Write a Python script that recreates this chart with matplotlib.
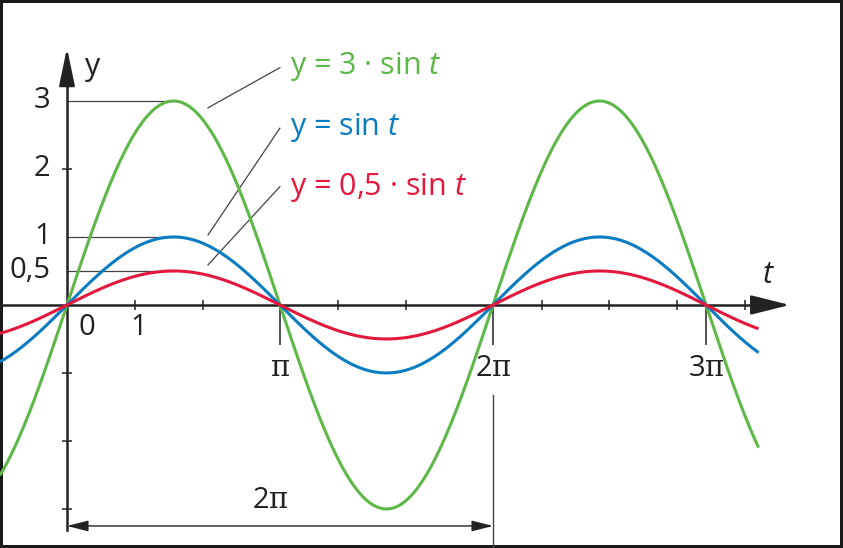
import numpy as np
import matplotlib
matplotlib.use("Agg")
import matplotlib.pyplot as plt

plt.rcParams["font.family"] = ["Open Sans", "DejaVu Sans"]
plt.rcParams["mathtext.fontset"] = "custom"
plt.rcParams["mathtext.it"] = "Open Sans:italic"
plt.rcParams["mathtext.rm"] = "Open Sans"
plt.rcParams["mathtext.cal"] = "DejaVu Serif"

# curves: y = a * sin t
amplitudes = [3, 1, 0.5]
curve_colors = ["#5DB847", "#0A7CC1", "#E4183C"]
curve_labels = [r"y = 3 · sin $t$", r"y = sin $t$", r"y = 0,5 · sin $t$"]
label_baselines = [3.40, 2.50, 1.62]
t_range = (-0.99, 10.2)

y_tick_values = [3, 2, 1, 0.5]
y_tick_labels = ["3", "2", "1", "0,5"]
x_minor_ticks = [1, 2, 4, 5, 7, 8, 9, 10]
x_pi_ticks = [np.pi, 2 * np.pi, 3 * np.pi]
x_pi_labels = [r"$\mathcal{\pi}$", r"2$\mathcal{\pi}$", r"3$\mathcal{\pi}$"]
y_neg_ticks = [-1, -2, -3]

AX = "#222222"
GRAY = "#444444"
FS = 21

fig = plt.figure(figsize=(8.43, 5.48), dpi=100)
fig.patch.set_edgecolor("#1a1a1a")
fig.patch.set_linewidth(3)
ax = fig.add_axes([0, 0, 1, 1])
ax.set_xlim(-0.988, 11.445)
ax.set_ylim(-3.574, 4.485)
ax.patch.set_alpha(0)

# axes through origin
for s in ("top", "right"):
    ax.spines[s].set_visible(False)
ax.spines["left"].set_position(("data", 0))
ax.spines["bottom"].set_position(("data", 0))
ax.spines["left"].set_bounds(-3.31, 3.4)
ax.spines["bottom"].set_bounds(-0.988, 10.3)
for s in ("left", "bottom"):
    ax.spines[s].set_color(AX)
    ax.spines[s].set_linewidth(1.8)
    ax.spines[s].set_zorder(1)

ax.set_xticks(x_pi_ticks)
ax.set_xticklabels([])
ax.set_xticks(x_minor_ticks, minor=True)
ax.tick_params(axis="x", which="major", direction="out", length=29, width=1.3, color=GRAY)
ax.tick_params(axis="x", which="minor", direction="inout", length=7, width=1.1, color=AX)
ax.set_yticks([2] + y_neg_ticks)
ax.set_yticklabels([])
ax.tick_params(axis="y", which="major", direction="inout", length=7, width=1.1, color=AX)

# arrow heads
ax.annotate("", xy=(0, 3.78), xytext=(0, 3.3),
            arrowprops=dict(arrowstyle="-|>,head_length=2.3,head_width=0.48",
                            mutation_scale=10, lw=1.8, color=AX, shrinkA=0, shrinkB=0))
ax.annotate("", xy=(10.66, 0), xytext=(10.2, 0),
            arrowprops=dict(arrowstyle="-|>,head_length=2.4,head_width=0.6",
                            mutation_scale=10, lw=1.8, color=AX, shrinkA=0, shrinkB=0))

# helper lines to the maxima
for a in amplitudes:
    ax.plot([0, np.pi / 2], [a, a], color=GRAY, lw=0.9, zorder=1)

# curves
t = np.linspace(t_range[0], t_range[1], 600)
for a, c in zip(amplitudes, curve_colors):
    ax.plot(t, a * np.sin(t), color=c, lw=2.2, zorder=3, solid_capstyle="butt")

# curve labels with leader lines
leaders = [((3.14, 3.49), (2.08, 2.90)), ((3.14, 2.60), (2.08, 1.03)), ((3.14, 1.74), (2.08, 0.59))]
for lab, c, yb, (p0, p1) in zip(curve_labels, curve_colors, label_baselines, leaders):
    ax.text(3.29, yb, lab, color=c, fontsize=22, va="baseline", ha="left")
    ax.plot([p0[0], p1[0]], [p0[1], p1[1]], color=GRAY, lw=0.9, zorder=2)

# tick labels
for v, lab in zip(y_tick_values, y_tick_labels):
    ax.text(-0.24, v, lab, fontsize=FS, ha="right", va="center", color=AX)
ax.text(0.30, -0.33, "0", fontsize=FS, ha="center", va="center", color=AX)
ax.text(1.05, -0.33, "1", fontsize=FS, ha="center", va="center", color=AX)
for v, lab in zip(x_pi_ticks, x_pi_labels):
    ax.text(v, -0.93, lab, fontsize=FS, ha="center", va="center", color=AX)
ax.text(0.38, 3.5, "y", fontsize=22, ha="center", va="center", color=AX)
ax.text(10.34, 0.44, "$t$", fontsize=22, ha="center", va="center", color=AX)

# period dimension
ax.plot([2 * np.pi, 2 * np.pi], [-1.32, -3.6], color=GRAY, lw=1.0)
ax.annotate("", xy=(2 * np.pi, -3.25), xytext=(0, -3.25),
            arrowprops=dict(arrowstyle="<|-|>,head_length=1.3,head_width=0.33",
                            mutation_scale=10, lw=1.0, color=AX, shrinkA=0, shrinkB=0))
ax.text(3.0, -2.87, r"2$\mathcal{\pi}$", fontsize=FS, ha="center", va="center", color=AX)

fig.savefig("out.png", dpi=100, edgecolor=fig.get_edgecolor())
